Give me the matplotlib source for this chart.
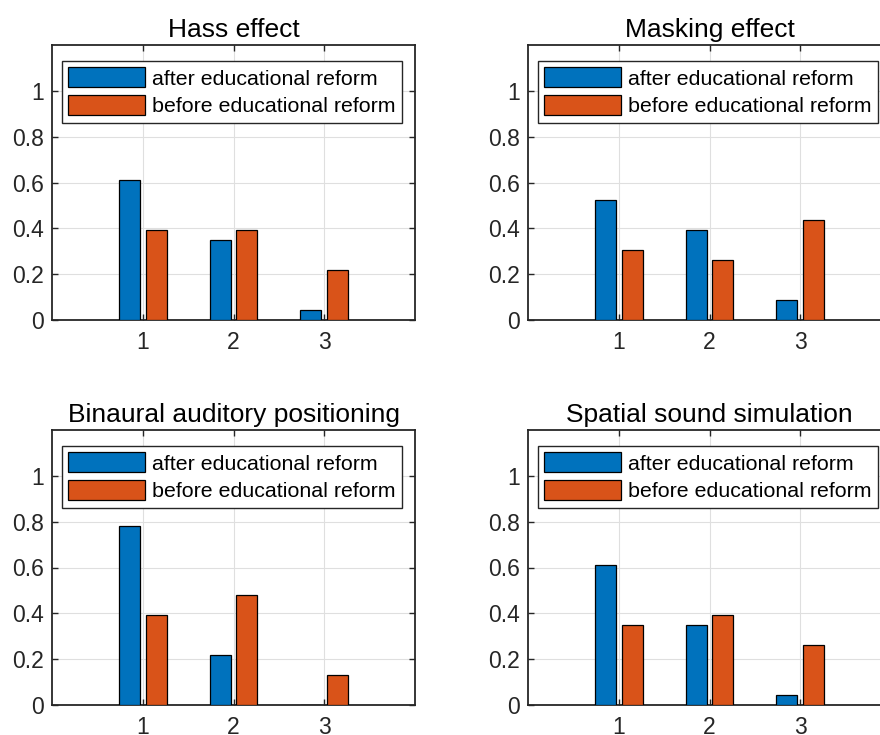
import numpy as np
import matplotlib
matplotlib.use("Agg")
import matplotlib.pyplot as plt

# data
titles = ["Hass effect", "Masking effect",
          "Binaural auditory positioning", "Spatial sound simulation"]
groups = [1, 2, 3]
after_reform = [
    [0.609, 0.348, 0.043],
    [0.522, 0.391, 0.087],
    [0.783, 0.217, 0.0],
    [0.609, 0.348, 0.043],
]
before_reform = [
    [0.391, 0.391, 0.217],
    [0.304, 0.261, 0.435],
    [0.391, 0.478, 0.130],
    [0.348, 0.391, 0.261],
]
series_names = ["after educational reform", "before educational reform"]
yticks = [0, 0.2, 0.4, 0.6, 0.8, 1.0]
ytick_labels = ["0", "0.2", "0.4", "0.6", "0.8", "1"]

plt.rcParams['font.family'] = ['Liberation Sans', 'DejaVu Sans']
dark = '#262626'
blue = '#0072BD'
orange = '#D95319'

fig = plt.figure(figsize=(8.8, 7.35), dpi=100)
W, H = 880, 735
# axes boxes in pixels: left, top, width, height
boxes = [(52, 45), (528, 45), (52, 430), (528, 430)]
aw, ah = 363, 275

x = np.array(groups)
for i in range(4):
    l, t = boxes[i]
    ax = fig.add_axes([l / W, (H - t - ah) / H, aw / W, ah / H])
    ax.bar(x - 0.147, after_reform[i], width=0.23, color=blue,
           edgecolor='black', linewidth=0.9, label=series_names[0], zorder=3)
    ax.bar(x + 0.147, before_reform[i], width=0.23, color=orange,
           edgecolor='black', linewidth=0.9, label=series_names[1], zorder=3)
    ax.set_xlim(0, 4)
    ax.set_ylim(0, 1.2)
    ax.set_xticks(groups)
    ax.set_yticks(yticks)
    ax.set_yticklabels(ytick_labels)
    ax.grid(True, color='#dfdfdf', linewidth=0.8, zorder=0)
    ax.set_axisbelow(True)
    for s in ax.spines.values():
        s.set_color(dark)
        s.set_linewidth(1.3)
    ax.tick_params(direction='in', length=4, width=1.0, colors=dark,
                   labelsize=16.5, top=True, right=True)
    ax.tick_params(axis='x', pad=8)
    ax.tick_params(axis='y', pad=6)
    ax.set_title(titles[i], fontsize=19, color='black', pad=6)
    leg = ax.legend(loc='upper left', bbox_to_anchor=(0.0275, 0.942),
                    fontsize=15.4, handlelength=3.6, handleheight=1.05,
                    handletextpad=0.3, labelspacing=0.3, borderpad=0.3,
                    borderaxespad=0, fancybox=False, framealpha=1)
    leg.get_frame().set_edgecolor(dark)
    leg.get_frame().set_linewidth(1.0)

fig.savefig("out.png", dpi=100)
